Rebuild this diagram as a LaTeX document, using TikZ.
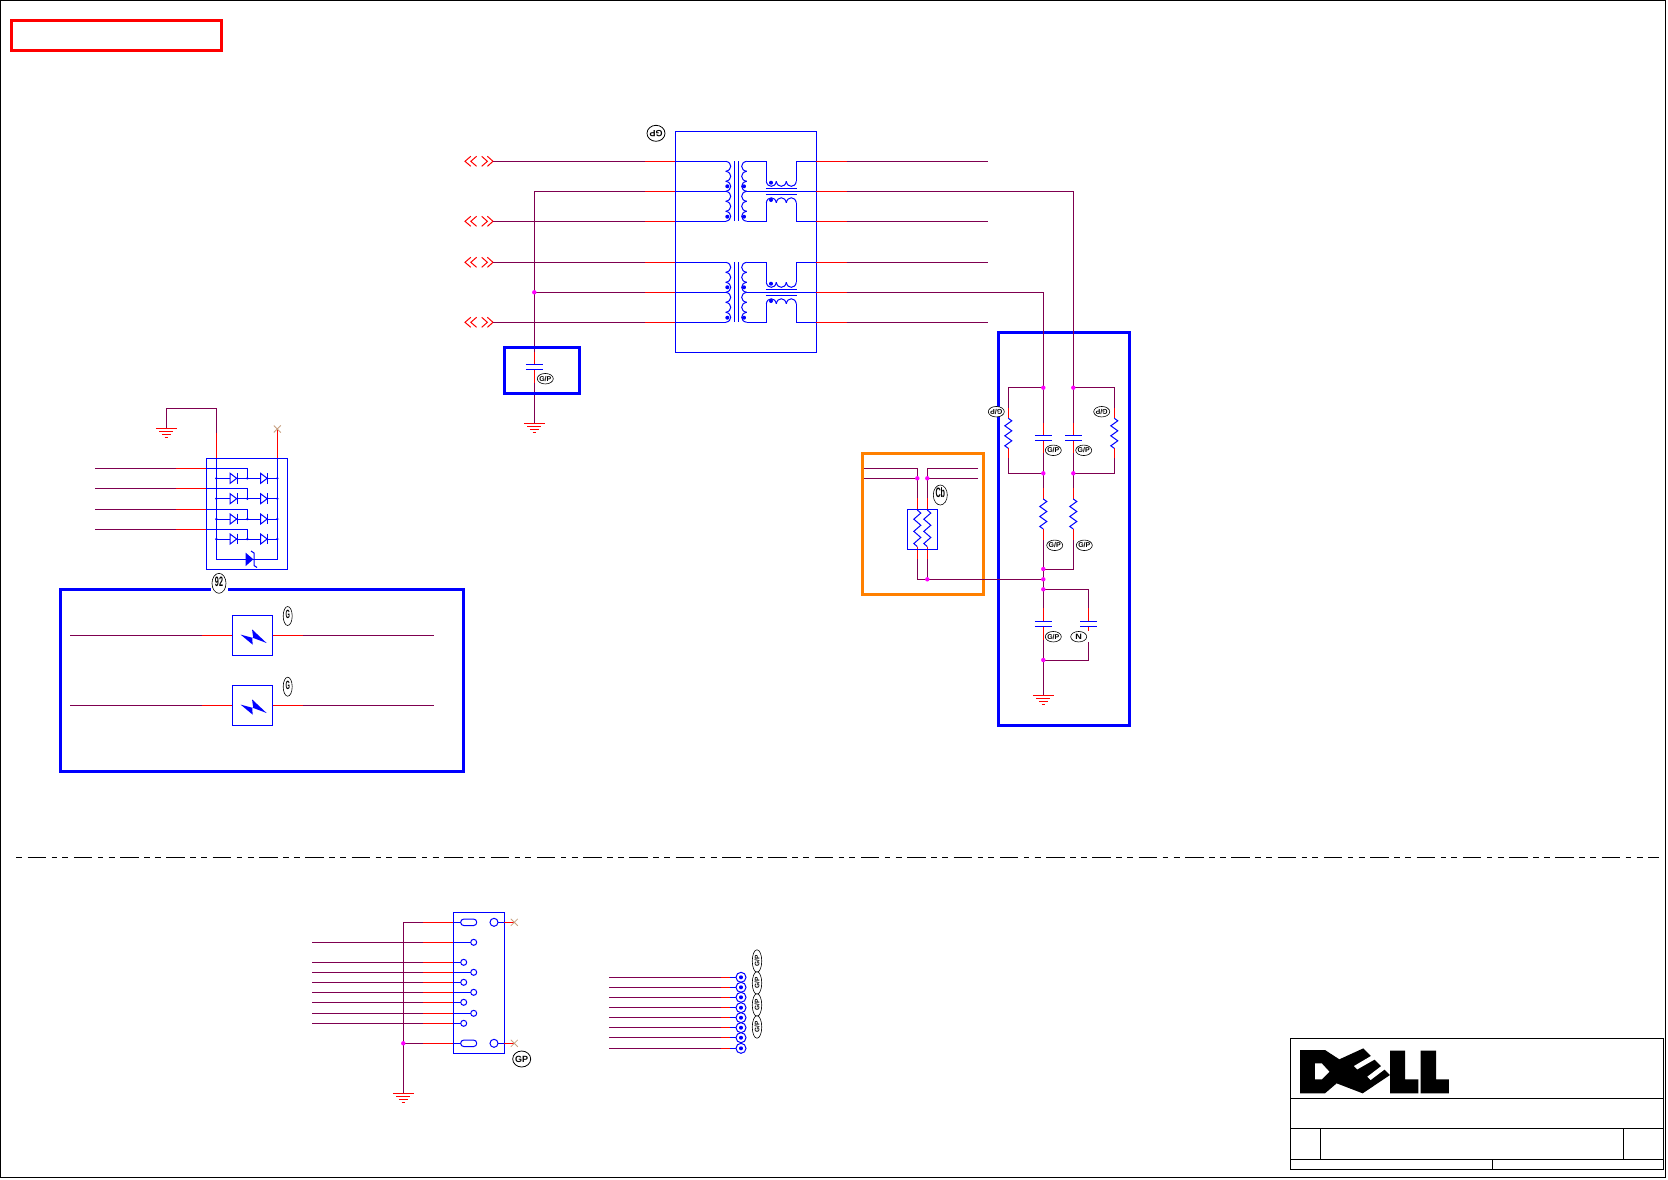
\documentclass[tikz,border=0pt]{standalone}
\usepackage{fontspec}
\setmainfont{Liberation Sans}
\usetikzlibrary{shapes.geometric}
\definecolor{wirep}{HTML}{7F0050}
\definecolor{xtan}{HTML}{C8A080}
\definecolor{orng}{HTML}{FF8000}
\definecolor{jmag}{RGB}{255,0,255}
\newcommand\lt[3][1]{\smash{\makebox[0pt]{\raisebox{-.36em}{\scalebox{#1}[#2]{#3}}}}}
\tikzset{
 pw/.style={draw=wirep,line width=1pt},
 rw/.style={draw=red,line width=1pt},
 bw/.style={draw=blue,line width=1pt},
 thickblue/.style={draw=blue,line width=3pt},
 jdot/.style={circle,fill=jmag,inner sep=0pt,minimum size=4.4pt},
 lbl/.style={ellipse,draw=black,line width=.6pt,fill=white,inner sep=0pt,minimum width=16pt,minimum height=10.5pt,font=\bfseries\fontsize{7}{7}\selectfont},
 lbltall/.style={lbl,minimum width=14pt,minimum height=20pt,font=\bfseries\fontsize{8}{8}\selectfont},
 lblnar/.style={lbl,minimum width=9pt,minimum height=19pt,font=\bfseries\fontsize{7}{7}\selectfont},
 lblcol/.style={lbl,minimum width=22.5pt,minimum height=9.5pt,font=\bfseries\fontsize{6.5}{7}\selectfont},
 lblgp/.style={lbl,line width=.8pt,minimum width=18pt,minimum height=16pt,font=\bfseries\fontsize{9}{9}\selectfont},
 gnd/.pic={\draw[rw] (-10.5,0)--(10.5,0) (-7,3.3)--(7,3.3) (-4.5,6)--(4.5,6) (-1.7,9)--(1.7,9);},
 res/.pic={\draw[bw] (0,0)--(3.5,2.5)--(-3.5,7.5)--(3.5,12.5)--(-3.5,17.5)--(3.5,22.5)--(-3.5,27.5)--(0,30);},
 capa/.pic={\draw[bw] (-8.5,0)--(8.5,0) (-8.5,4.8)--(8.5,4.8);},
 chev/.pic={\draw[draw=red,line width=1pt] (5.8,-5)--(0,0)--(5.8,5) (11.6,-5)--(5.8,0)--(11.6,5)
   (16.7,-5)--(22.4,0)--(16.7,5) (22.4,-5)--(28,0)--(22.4,5);},
 diode/.pic={\draw[bw,fill=white] (-3.6,-5)--(3,0)--(-3.6,5)--cycle; \draw[bw] (3.6,-5.3)--(3.6,5.3);},
 xmark/.pic={\draw[draw=xtan,line width=.8pt] (-3.5,-3.5)--(3.5,3.5) (-3.5,3.5)--(3.5,-3.5);},
 bolt/.pic={\fill[blue] (-11.7,-.7)--(.3,9.3)--(0,2.3)--(14.3,7.7)--(-.3,-6)--(1,2.7)--cycle;},
 xfmr/.pic={
  \draw[bw] (0,0)--(50.4,0) (0,30)--(50.4,30) (0,60)--(50.4,60);
  \foreach \i in {0,...,5}{
   \draw[bw] (50.4,10*\i) .. controls (57.1,10*\i+1) and (57.1,10*\i+9) .. (50.4,10*\i+10);
   \draw[bw] (71.4,10*\i) .. controls (64.7,10*\i+1) and (64.7,10*\i+9) .. (71.4,10*\i+10);}
  \draw[bw] (58.7,0)--(58.7,60) (63,0)--(63,60);
  \draw[bw] (71.4,0)--(91,0)--(91,20) (71.4,30)--(141,30) (141,0)--(121,0)--(121,20)
            (71.4,60)--(91,60)--(91,41.5) (141,60)--(121,60)--(121,41.5);
  \foreach \i in {0,1,2}{
   \draw[bw] (91+10*\i,20) .. controls (92+10*\i,26.7) and (100+10*\i,26.7) .. (101+10*\i,20);
   \draw[bw] (91+10*\i,41.5) .. controls (92+10*\i,34.8) and (100+10*\i,34.8) .. (101+10*\i,41.5);}
  \draw[bw] (90.5,27.4)--(121.5,27.4) (90.5,33.4)--(121.5,33.4);
  \fill[blue] (52,25) circle (2) (52,55.4) circle (2) (68.7,25) circle (2) (68.7,55.4) circle (2)
              (95.7,21.4) circle (2) (95.7,38.7) circle (2);
 },
}
\begin{document}
\begin{tikzpicture}[x=1pt,y=-1pt]
\useasboundingbox (0,0) rectangle (1668,1179);
\fill[white] (0,0) rectangle (1668,1179);
% page frame, red box, dashed separator
\draw[black,line width=1.5pt] (.7,.7) rectangle (1665.7,1177.3);
\node[draw=red,line width=3pt,minimum width=209.8pt,minimum height=29.6pt,inner sep=0pt] (redbox) at (116.1,35.5) {};
\coordinate (sepL) at (16,857); \coordinate (sepR) at (1659,857);
\draw[black,line width=1pt,dash pattern=on 6pt off 5.5pt on 18.5pt off 5.5pt on 5.5pt off 5.3pt] (sepL)--(sepR);

% ---- transformer block
\node[draw=blue,line width=1pt,minimum width=141pt,minimum height=221pt,inner sep=0pt] (xf) at (745.8,241.8) {};
\pic at (675.3,161.3) {xfmr};
\pic at (675.3,262.3) {xfmr};
\foreach \y in {161.3,221.3,262.3,322.3}{
 \pic at (465,\y) {chev};
 \draw[pw] (493.3,\y)--(645,\y);
 \draw[rw] (645,\y)--(675.3,\y) (816.3,\y)--(846.7,\y);
 \draw[pw] (846.7,\y)--(988.3,\y);
}
\foreach \y in {191.3,292.3}{
 \draw[pw] (534.3,\y)--(645,\y);
 \draw[rw] (645,\y)--(675.3,\y) (816.3,\y)--(846.7,\y);
}
\node[lblgp,rotate=180] (lgp1) at (656,133.3) {\lt{1}{GP}};
% left centre tap
\coordinate (jt) at (534.3,292.3);
\draw[pw] (534.3,191.3)--(jt)--(534.3,351.7);
\draw[rw] (534.3,351.7)--(534.3,364.7) (534.3,369.5)--(534.3,383.3);
\draw[pw] (534.3,383.3)--(534.3,423.3);
\pic at (534.3,423.3) {gnd};
\node[thickblue,minimum width=75.4pt,minimum height=46.7pt,inner sep=0pt] (cbox) at (542,370.4) {};
\pic at (534.3,364.7) {capa};
\node[lbl] (lc1) at (545.3,378.7) {\lt{1}{G/P}};

% ---- right termination
\node[thickblue,minimum width=131.3pt,minimum height=392.6pt,inner sep=0pt] (tbox) at (1063.7,529) {};
\coordinate (a1) at (1043.3,387.7);
\coordinate (b1) at (1073.3,387.7);
\coordinate (a2) at (1043.3,473.3);
\coordinate (b2) at (1073.3,473.3);
\coordinate (a3) at (1043.3,569);
\coordinate (a4) at (1043.3,579.3);
\coordinate (a5) at (1043.3,589.3);
\coordinate (a6) at (1043.3,660);
\draw[pw] (846.7,292.3)-|(a1); \draw[pw] (846.7,191.3)-|(b1);
\draw[pw] (a1)--(1043.3,423.3) (b1)--(1073.3,423.3);
\draw[rw] (1043.3,423.3)--(1043.3,435) (1073.3,423.3)--(1073.3,435)
          (1043.3,440)--(1043.3,453.3) (1073.3,440)--(1073.3,453.3);
\draw[pw] (1043.3,453.3)--(a2) (1073.3,453.3)--(b2);
\pic at (1043.3,435.2) {capa}; \pic at (1073.8,435.2) {capa};
% shunt resistors
\draw[pw] (a1)--(1008.3,387.7)--(1008.3,408.3) (b1)--(1114.3,387.7)--(1114.3,408.3);
\draw[rw] (1008.3,408.3)--(1008.3,418.3) (1114.3,408.3)--(1114.3,418.3)
          (1008.3,448.3)--(1008.3,458.3) (1114.3,448.3)--(1114.3,458.3);
\draw[pw] (1008.3,458.3)--(1008.3,473.3)--(a2) (1114.3,458.3)--(1114.3,473.3)--(b2);
\pic at (1008.3,418.3) {res}; \pic at (1114.3,418.3) {res};
% series resistors
\foreach \x in {1043.3,1073.3}{
 \draw[pw] (\x,473.3)--(\x,488.3);
 \draw[rw] (\x,488.3)--(\x,499) (\x,529)--(\x,540);
 \pic at (\x,499) {res};
}
\draw[pw] (1043.3,540)--(a3)--(a4)--(a5)--(1043.3,608);
\draw[pw] (1073.3,540)--(1073.3,569)--(a3);
\draw[pw] (a5)--(1088.3,589.3)--(1088.3,608);
\draw[rw] (1043.3,608)--(1043.3,621.3) (1088.3,608)--(1088.3,621.3) (1043.3,626)--(1043.3,640) (1088.3,626)--(1088.3,631);
\pic at (1043.3,621.3) {capa}; \pic at (1088.8,621.3) {capa};
\draw[pw] (1043.3,640)--(a6)--(1043.3,695);
\draw[pw] (a6)--(1088.3,660)--(1088.3,641.7);
\pic at (1043.3,695) {gnd};
\node[lbl,rotate=180] (l1) at (996.3,411.7) {\lt{1}{G/P}};
\node[lbl,rotate=180] (l2) at (1101.7,411.7) {\lt{1}{G/P}};
\node[lbl] (l3) at (1053.3,450.3) {\lt{1}{G/P}};
\node[lbl] (l4) at (1083.7,450.3) {\lt{1}{G/P}};
\node[lbl] (l5) at (1054.7,545.3) {\lt{1}{G/P}};
\node[lbl] (l6) at (1084.3,545.3) {\lt{1}{G/P}};
\node[lbl] (l7) at (1053.3,636.7) {\lt{1}{G/P}};
\node[lbl] (l8) at (1078.7,636.7) {\lt[1.3]{1.1}{N}};

% ---- orange block
\node[draw=orng,line width=3pt,minimum width=121pt,minimum height=141pt,inner sep=0pt] (obox) at (922.5,523.8) {};
\coordinate (o1) at (917.3,478.3);
\coordinate (o2) at (927.3,478.3);
\coordinate (o3) at (927.3,579.3);
\draw[pw] (864,468.3)--(917.3,468.3)--(o1)--(917.3,498.3);
\draw[pw] (864,478.3)--(o1);
\draw[pw] (978,468.3)--(927.3,468.3)--(o2)--(927.3,498.3);
\draw[pw] (978,478.3)--(o2);
\draw[rw] (917.3,498.3)--(917.3,510) (927.3,498.3)--(927.3,510) (917.3,546.7)--(917.3,559.3) (927.3,546.7)--(927.3,559.3);
\draw[pw] (917.3,559.3)--(917.3,579.3)--(o3)--(a4);
\draw[pw] (927.3,559.3)--(o3);
\node[draw=blue,line width=1pt,minimum width=30pt,minimum height=40pt,inner sep=0pt] (obx2) at (922.3,529.3) {};
\pic[yscale=1.22] at (917.3,510) {res};
\pic[yscale=1.22] at (927.3,510) {res};
\node[lbltall] (lcb) at (940.3,495) {\lt[.9]{1.7}{Cb}};

% ---- diode array
\node[draw=blue,line width=1pt,minimum width=81.4pt,minimum height=111pt,inner sep=0pt] (darr) at (247,513.8) {};
\pic at (166.3,428.3) {gnd};
\draw[pw] (166.3,428.3)--(166.3,408.3)--(216.3,408.3)--(216.3,433);
\draw[rw] (216.3,433)--(216.3,458.3);
\draw[bw] (216.3,458.3)--(216.3,559.3)--(277.3,559.3)--(277.3,458.3);
\draw[rw] (277.3,458.3)--(277.3,429);
\pic at (277.3,429) {xmark};
\foreach \y/\r in {468.3/478.3,488.3/498.7,509.3/519,529.3/539}{
 \draw[pw] (95.3,\y)--(176,\y);
 \draw[rw] (176,\y)--(206.3,\y);
 \draw[bw] (206.3,\y)--(247.3,\y)--(247.3,\r);
 \draw[bw] (216.3,\r)--(277.3,\r);
 \pic at (233.7,\r) {diode};
 \pic at (264.2,\r) {diode};
 \fill[blue] (216.3,\r) circle (1.3) (247.3,\r) circle (1.3) (277.3,\r) circle (1.3);
}
\fill[blue] (245.7,552.7)--(253.3,559.3)--(245.7,566)--cycle;
\draw[bw] (251,551)--(254,553)--(254,565.5)--(257,567.5);

% ---- ESD block
\node[thickblue,minimum width=403.4pt,minimum height=181.6pt,inner sep=0pt] (ebox) at (262,680.5) {};
\fill[white] (210.5,587) rectangle (228,592.5);
\node[lbltall] (l92) at (219,583.3) {\lt[.9]{1.7}{92}};
\foreach \y/\c in {635.3/e1,705.3/e2}{
 \draw[pw] (70,\y)--(202,\y);
 \draw[rw] (202,\y)--(232.3,\y) (272.3,\y)--(302.7,\y);
 \draw[pw] (302.7,\y)--(434,\y);
 \node[draw=blue,line width=1pt,minimum width=40pt,minimum height=40.5pt,inner sep=0pt] (\c) at (252.3,\y) {};
 \pic at (252.3,\y) {bolt};
}
\node[lblnar] (le1) at (287.7,616) {\lt[.8]{1.7}{G}};
\node[lblnar] (le2) at (287.7,686.7) {\lt[.8]{1.7}{G}};

% ---- connector
\node[draw=blue,line width=1pt,minimum width=51pt,minimum height=141pt,inner sep=0pt] (conn) at (478.8,982.8) {};
\foreach \y/\px in {942.3/473.7,962.3/463.7,972.3/473.7,982.3/463.7,992.3/473.7,1002.3/463.7,1013.3/473.7,1023.3/463.7}{
 \draw[pw] (312,\y)--(423.3,\y);
 \draw[rw] (423.3,\y)--(453.3,\y);
 \draw[bw] (453.3,\y)--(\px,\y);
 \draw[bw,fill=white] (\px,\y) circle (3);
}
\coordinate (cj) at (403.3,1043.3);
\draw[pw] (403.3,922.3)--(cj)--(403.3,1093.3);
\pic at (403.3,1093.3) {gnd};
\foreach \y in {922.3,1043.3}{
 \draw[pw] (403.3,\y)--(423.3,\y);
 \draw[rw] (423.3,\y)--(453.3,\y) (504.3,\y)--(514.3,\y);
 \draw[bw] (453.3,\y)--(460.7,\y) (498,\y)--(504.3,\y);
 \draw[bw,fill=white,rounded corners=3pt] (460.7,\y-3.2) rectangle (476.7,\y+3.2);
 \draw[bw,fill=white] (494,\y) circle (4);
 \pic at (514.3,\y) {xmark};
}
\node[lblgp] (lgp2) at (521.7,1059) {\lt{1}{GP}};

% ---- test points
\foreach \y in {977.3,987.3,997.3,1007.7,1017.7,1027.7,1037.7,1048.3}{
 \draw[pw] (609.3,\y)--(720.7,\y);
 \draw[rw] (720.7,\y)--(730,\y);
 \draw[bw] (730,\y)--(736,\y);
 \draw[bw,fill=white] (741,\y) circle (5);
 \fill[blue] (741,\y) circle (2);
}
\foreach \y/\n in {961/t1,983/t2,1005/t3,1027/t4}{
 \node[lblcol,rotate=90] (\n) at (757,\y) {\lt{1}{G/P}};
}

% ---- junction dots
\foreach \n in {jt,a1,b1,a2,b2,a3,a4,a5,a6,o1,o2,o3,cj}{
 \node[jdot] (\n d) at (\n) {};
}

% ---- title block
\draw[black,line width=1pt] (1290.7,1038.3) rectangle (1663.3,1169.3);
\draw[black,line width=1pt] (1290.7,1098.3)--(1663.3,1098.3) (1290.7,1128.3)--(1663.3,1128.3) (1290.7,1159)--(1663.3,1159)
  (1320.7,1128.3)--(1320.7,1159) (1623.7,1128.3)--(1623.7,1159) (1492.3,1159)--(1492.3,1169.3);
\begin{scope}[shift={(1280,1030)},x=.3333pt,y=-.3333pt]
 \fill[black] (60,60)--(135,60)--(178,88)--(250,55)--(330,135)--(248,190)--(170,160)--(135,190)--(60,190)--cycle;
 \fill[white] (105,100)--(125,100)--(148,125)--(125,148)--(105,148)--cycle;
 \fill[white] (222,108)--(278,75)--(290,85)--(232,118)--cycle;
 \fill[white] (262,140)--(312,102)--(322,112)--(272,150)--cycle;
 \fill[black] (330,62)--(375,62)--(375,148)--(415,148)--(415,190)--(330,190)--cycle;
 \fill[black] (422,62)--(468,62)--(468,148)--(507,148)--(507,190)--(422,190)--cycle;
\end{scope}
\end{tikzpicture}
\end{document}
